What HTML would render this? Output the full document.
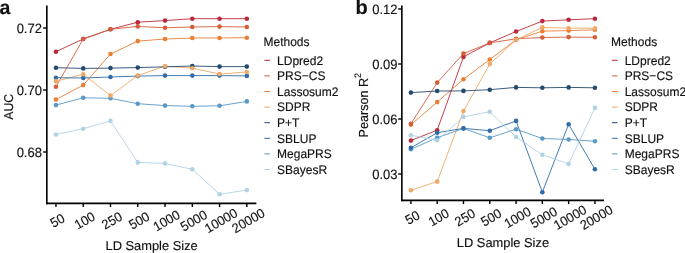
<!DOCTYPE html>
<html><head><meta charset="utf-8"><style>
html,body{margin:0;padding:0;background:#fff;}
svg{display:block;will-change:transform;}
text{font-family:"Liberation Sans", sans-serif;fill:#111;text-rendering:geometricPrecision;stroke:#111;stroke-width:0.15px;}
</style></head><body>
<svg width="685" height="253" viewBox="0 0 685 253">
<polyline points="55.95,51.70 83.22,39.00 110.49,29.30 137.76,22.20 165.03,20.60 192.30,18.70 219.57,18.70 246.84,18.70" fill="none" stroke="#BB2A3B" stroke-width="0.9" stroke-linejoin="round"/>
<polyline points="55.95,86.70 83.22,39.00 110.49,29.30 137.76,26.40 165.03,27.80 192.30,27.00 219.57,26.60 246.84,27.00" fill="none" stroke="#D55E3A" stroke-width="0.9" stroke-linejoin="round"/>
<polyline points="55.95,99.50 83.22,85.10 110.49,54.00 137.76,41.10 165.03,39.00 192.30,38.00 219.57,38.00 246.84,37.70" fill="none" stroke="#E97E35" stroke-width="0.9" stroke-linejoin="round"/>
<polyline points="55.95,81.30 83.22,74.20 110.49,95.60 137.76,75.60 165.03,66.10 192.30,68.20 219.57,74.00 246.84,72.00" fill="none" stroke="#EFA866" stroke-width="0.9" stroke-linejoin="round"/>
<polyline points="55.95,67.70 83.22,68.40 110.49,68.10 137.76,67.60 165.03,66.80 192.30,66.00 219.57,66.60 246.84,66.60" fill="none" stroke="#244A72" stroke-width="0.9" stroke-linejoin="round"/>
<polyline points="55.95,77.70 83.22,78.00 110.49,77.00 137.76,76.10 165.03,75.60 192.30,75.60 219.57,75.60 246.84,75.90" fill="none" stroke="#2F6CA8" stroke-width="0.9" stroke-linejoin="round"/>
<polyline points="55.95,105.10 83.22,97.80 110.49,98.30 137.76,103.70 165.03,105.60 192.30,106.30 219.57,105.80 246.84,101.40" fill="none" stroke="#5A98C6" stroke-width="0.9" stroke-linejoin="round"/>
<polyline points="55.95,134.50 83.22,128.70 110.49,120.90 137.76,162.40 165.03,163.50 192.30,169.30 219.57,194.30 246.84,190.10" fill="none" stroke="#B0D2E2" stroke-width="0.9" stroke-linejoin="round"/>
<circle cx="55.95" cy="51.70" r="2.3" fill="#BB2A3B"/>
<circle cx="83.22" cy="39.00" r="2.3" fill="#BB2A3B"/>
<circle cx="110.49" cy="29.30" r="2.3" fill="#BB2A3B"/>
<circle cx="137.76" cy="22.20" r="2.3" fill="#BB2A3B"/>
<circle cx="165.03" cy="20.60" r="2.3" fill="#BB2A3B"/>
<circle cx="192.30" cy="18.70" r="2.3" fill="#BB2A3B"/>
<circle cx="219.57" cy="18.70" r="2.3" fill="#BB2A3B"/>
<circle cx="246.84" cy="18.70" r="2.3" fill="#BB2A3B"/>
<circle cx="55.95" cy="99.50" r="2.3" fill="#E97E35"/>
<circle cx="83.22" cy="85.10" r="2.3" fill="#E97E35"/>
<circle cx="110.49" cy="54.00" r="2.3" fill="#E97E35"/>
<circle cx="137.76" cy="41.10" r="2.3" fill="#E97E35"/>
<circle cx="165.03" cy="39.00" r="2.3" fill="#E97E35"/>
<circle cx="192.30" cy="38.00" r="2.3" fill="#E97E35"/>
<circle cx="219.57" cy="38.00" r="2.3" fill="#E97E35"/>
<circle cx="246.84" cy="37.70" r="2.3" fill="#E97E35"/>
<circle cx="55.95" cy="105.10" r="2.3" fill="#5A98C6"/>
<circle cx="83.22" cy="97.80" r="2.3" fill="#5A98C6"/>
<circle cx="110.49" cy="98.30" r="2.3" fill="#5A98C6"/>
<circle cx="137.76" cy="103.70" r="2.3" fill="#5A98C6"/>
<circle cx="165.03" cy="105.60" r="2.3" fill="#5A98C6"/>
<circle cx="192.30" cy="106.30" r="2.3" fill="#5A98C6"/>
<circle cx="219.57" cy="105.80" r="2.3" fill="#5A98C6"/>
<circle cx="246.84" cy="101.40" r="2.3" fill="#5A98C6"/>
<circle cx="55.95" cy="67.70" r="2.3" fill="#244A72"/>
<circle cx="83.22" cy="68.40" r="2.3" fill="#244A72"/>
<circle cx="110.49" cy="68.10" r="2.3" fill="#244A72"/>
<circle cx="137.76" cy="67.60" r="2.3" fill="#244A72"/>
<circle cx="165.03" cy="66.80" r="2.3" fill="#244A72"/>
<circle cx="192.30" cy="66.00" r="2.3" fill="#244A72"/>
<circle cx="219.57" cy="66.60" r="2.3" fill="#244A72"/>
<circle cx="246.84" cy="66.60" r="2.3" fill="#244A72"/>
<circle cx="55.95" cy="86.70" r="2.3" fill="#D55E3A"/>
<circle cx="83.22" cy="39.00" r="2.3" fill="#D55E3A"/>
<circle cx="110.49" cy="29.30" r="2.3" fill="#D55E3A"/>
<circle cx="137.76" cy="26.40" r="2.3" fill="#D55E3A"/>
<circle cx="165.03" cy="27.80" r="2.3" fill="#D55E3A"/>
<circle cx="192.30" cy="27.00" r="2.3" fill="#D55E3A"/>
<circle cx="219.57" cy="26.60" r="2.3" fill="#D55E3A"/>
<circle cx="246.84" cy="27.00" r="2.3" fill="#D55E3A"/>
<circle cx="55.95" cy="77.70" r="2.3" fill="#2F6CA8"/>
<circle cx="83.22" cy="78.00" r="2.3" fill="#2F6CA8"/>
<circle cx="110.49" cy="77.00" r="2.3" fill="#2F6CA8"/>
<circle cx="137.76" cy="76.10" r="2.3" fill="#2F6CA8"/>
<circle cx="165.03" cy="75.60" r="2.3" fill="#2F6CA8"/>
<circle cx="192.30" cy="75.60" r="2.3" fill="#2F6CA8"/>
<circle cx="219.57" cy="75.60" r="2.3" fill="#2F6CA8"/>
<circle cx="246.84" cy="75.90" r="2.3" fill="#2F6CA8"/>
<circle cx="55.95" cy="134.50" r="2.3" fill="#B0D2E2"/>
<circle cx="83.22" cy="128.70" r="2.3" fill="#B0D2E2"/>
<circle cx="110.49" cy="120.90" r="2.3" fill="#B0D2E2"/>
<circle cx="137.76" cy="162.40" r="2.3" fill="#B0D2E2"/>
<circle cx="165.03" cy="163.50" r="2.3" fill="#B0D2E2"/>
<circle cx="192.30" cy="169.30" r="2.3" fill="#B0D2E2"/>
<circle cx="219.57" cy="194.30" r="2.3" fill="#B0D2E2"/>
<circle cx="246.84" cy="190.10" r="2.3" fill="#B0D2E2"/>
<circle cx="55.95" cy="81.30" r="2.3" fill="#EFA866"/>
<circle cx="83.22" cy="74.20" r="2.3" fill="#EFA866"/>
<circle cx="110.49" cy="95.60" r="2.3" fill="#EFA866"/>
<circle cx="137.76" cy="75.60" r="2.3" fill="#EFA866"/>
<circle cx="165.03" cy="66.10" r="2.3" fill="#EFA866"/>
<circle cx="192.30" cy="68.20" r="2.3" fill="#EFA866"/>
<circle cx="219.57" cy="74.00" r="2.3" fill="#EFA866"/>
<circle cx="246.84" cy="72.00" r="2.3" fill="#EFA866"/>
<line x1="46.83" y1="5.6" x2="46.83" y2="204.25" stroke="#000" stroke-width="1.6"/>
<line x1="46.03" y1="203.4" x2="256.4" y2="203.4" stroke="#000" stroke-width="1.7"/>
<line x1="43.13" y1="28.0" x2="46.83" y2="28.0" stroke="#000" stroke-width="1.4"/>
<text transform="translate(41.95,32.70) scale(1,1.041)" font-size="13.0" text-anchor="end">0.72</text>
<line x1="43.13" y1="90.0" x2="46.83" y2="90.0" stroke="#000" stroke-width="1.4"/>
<text transform="translate(41.95,94.70) scale(1,1.041)" font-size="13.0" text-anchor="end">0.70</text>
<line x1="43.13" y1="152.0" x2="46.83" y2="152.0" stroke="#000" stroke-width="1.4"/>
<text transform="translate(41.95,156.70) scale(1,1.041)" font-size="13.0" text-anchor="end">0.68</text>
<line x1="55.95" y1="203.4" x2="55.95" y2="207.10" stroke="#000" stroke-width="1.4"/>
<text transform="translate(57.30,220.45) rotate(-30) scale(1,1.041)" font-size="12.7" text-anchor="middle" dy="0.36em">50</text>
<line x1="83.22" y1="203.4" x2="83.22" y2="207.10" stroke="#000" stroke-width="1.4"/>
<text transform="translate(84.57,220.45) rotate(-30) scale(1,1.041)" font-size="12.7" text-anchor="middle" dy="0.36em">100</text>
<line x1="110.49" y1="203.4" x2="110.49" y2="207.10" stroke="#000" stroke-width="1.4"/>
<text transform="translate(111.84,220.45) rotate(-30) scale(1,1.041)" font-size="12.7" text-anchor="middle" dy="0.36em">250</text>
<line x1="137.76" y1="203.4" x2="137.76" y2="207.10" stroke="#000" stroke-width="1.4"/>
<text transform="translate(139.11,220.45) rotate(-30) scale(1,1.041)" font-size="12.7" text-anchor="middle" dy="0.36em">500</text>
<line x1="165.03" y1="203.4" x2="165.03" y2="207.10" stroke="#000" stroke-width="1.4"/>
<text transform="translate(166.38,220.45) rotate(-30) scale(1,1.041)" font-size="12.7" text-anchor="middle" dy="0.36em">1000</text>
<line x1="192.30" y1="203.4" x2="192.30" y2="207.10" stroke="#000" stroke-width="1.4"/>
<text transform="translate(193.65,220.45) rotate(-30) scale(1,1.041)" font-size="12.7" text-anchor="middle" dy="0.36em">5000</text>
<line x1="219.57" y1="203.4" x2="219.57" y2="207.10" stroke="#000" stroke-width="1.4"/>
<text transform="translate(220.92,220.45) rotate(-30) scale(1,1.041)" font-size="12.7" text-anchor="middle" dy="0.36em">10000</text>
<line x1="246.84" y1="203.4" x2="246.84" y2="207.10" stroke="#000" stroke-width="1.4"/>
<text transform="translate(248.19,220.45) rotate(-30) scale(1,1.041)" font-size="12.7" text-anchor="middle" dy="0.36em">20000</text>
<text transform="translate(151.61,250.00) scale(1,1.041)" font-size="12.3" text-anchor="middle" textLength="92.2" lengthAdjust="spacingAndGlyphs">LD Sample Size</text>
<text transform="translate(12.50,106.80) rotate(-90) scale(1,1.041)" font-size="12.3" text-anchor="middle" textLength="25.7" lengthAdjust="spacingAndGlyphs">AUC</text>
<text transform="translate(-0.50,14.20)" font-size="19.5" font-weight="bold">a</text>
<text transform="translate(263.50,45.60) scale(1,1.041)" font-size="12.0">Methods</text>
<line x1="264.30" y1="60.30" x2="270.00" y2="60.30" stroke="#BB2A3B" stroke-width="1.0"/>
<text transform="translate(277.10,64.62) scale(1,1.041)" font-size="12.0">LDpred2</text>
<line x1="264.30" y1="75.90" x2="270.00" y2="75.90" stroke="#D55E3A" stroke-width="1.0"/>
<text transform="translate(277.10,80.22) scale(1,1.041)" font-size="12.0">PRS−CS</text>
<line x1="264.30" y1="91.50" x2="270.00" y2="91.50" stroke="#E97E35" stroke-width="1.0"/>
<text transform="translate(277.10,95.82) scale(1,1.041)" font-size="12.0">Lassosum2</text>
<line x1="264.30" y1="107.10" x2="270.00" y2="107.10" stroke="#EFA866" stroke-width="1.0"/>
<text transform="translate(277.10,111.42) scale(1,1.041)" font-size="12.0">SDPR</text>
<line x1="264.30" y1="122.70" x2="270.00" y2="122.70" stroke="#244A72" stroke-width="1.0"/>
<text transform="translate(277.10,127.02) scale(1,1.041)" font-size="12.0">P+T</text>
<line x1="264.30" y1="138.30" x2="270.00" y2="138.30" stroke="#2F6CA8" stroke-width="1.0"/>
<text transform="translate(277.10,142.62) scale(1,1.041)" font-size="12.0">SBLUP</text>
<line x1="264.30" y1="153.90" x2="270.00" y2="153.90" stroke="#5A98C6" stroke-width="1.0"/>
<text transform="translate(277.10,158.22) scale(1,1.041)" font-size="12.0">MegaPRS</text>
<line x1="264.30" y1="169.50" x2="270.00" y2="169.50" stroke="#B0D2E2" stroke-width="1.0"/>
<text transform="translate(277.10,173.82) scale(1,1.041)" font-size="12.0">SBayesR</text>
<polyline points="410.90,140.60 437.19,130.20 463.48,56.90 489.77,42.90 516.06,31.50 542.35,21.10 568.64,19.80 594.93,18.70" fill="none" stroke="#BB2A3B" stroke-width="0.9" stroke-linejoin="round"/>
<polyline points="410.90,123.80 437.19,82.60 463.48,53.60 489.77,42.90 516.06,38.80 542.35,37.50 568.64,37.10 594.93,37.30" fill="none" stroke="#D55E3A" stroke-width="0.9" stroke-linejoin="round"/>
<polyline points="410.90,124.80 437.19,102.10 463.48,79.20 489.77,59.50 516.06,39.80 542.35,31.20 568.64,30.60 594.93,29.80" fill="none" stroke="#E97E35" stroke-width="0.9" stroke-linejoin="round"/>
<polyline points="410.90,190.20 437.19,181.60 463.48,111.10 489.77,64.00 516.06,39.80 542.35,27.40 568.64,28.20 594.93,28.20" fill="none" stroke="#EFA866" stroke-width="0.9" stroke-linejoin="round"/>
<polyline points="410.90,92.60 437.19,91.00 463.48,90.90 489.77,89.70 516.06,87.40 542.35,87.80 568.64,87.40 594.93,87.80" fill="none" stroke="#244A72" stroke-width="0.9" stroke-linejoin="round"/>
<polyline points="410.90,147.80 437.19,132.70 463.48,128.40 489.77,130.70 516.06,120.90 542.35,192.20 568.64,124.20 594.93,169.30" fill="none" stroke="#2F6CA8" stroke-width="0.9" stroke-linejoin="round"/>
<polyline points="410.90,149.30 437.19,137.70 463.48,128.40 489.77,137.80 516.06,129.20 542.35,138.50 568.64,139.50 594.93,141.20" fill="none" stroke="#5A98C6" stroke-width="0.9" stroke-linejoin="round"/>
<polyline points="410.90,135.20 437.19,140.30 463.48,116.90 489.77,111.70 516.06,137.00 542.35,154.80 568.64,163.90 594.93,107.90" fill="none" stroke="#B0D2E2" stroke-width="0.9" stroke-linejoin="round"/>
<circle cx="410.90" cy="140.60" r="2.3" fill="#BB2A3B"/>
<circle cx="437.19" cy="130.20" r="2.3" fill="#BB2A3B"/>
<circle cx="463.48" cy="56.90" r="2.3" fill="#BB2A3B"/>
<circle cx="489.77" cy="42.90" r="2.3" fill="#BB2A3B"/>
<circle cx="516.06" cy="31.50" r="2.3" fill="#BB2A3B"/>
<circle cx="542.35" cy="21.10" r="2.3" fill="#BB2A3B"/>
<circle cx="568.64" cy="19.80" r="2.3" fill="#BB2A3B"/>
<circle cx="594.93" cy="18.70" r="2.3" fill="#BB2A3B"/>
<circle cx="410.90" cy="124.80" r="2.3" fill="#E97E35"/>
<circle cx="437.19" cy="102.10" r="2.3" fill="#E97E35"/>
<circle cx="463.48" cy="79.20" r="2.3" fill="#E97E35"/>
<circle cx="489.77" cy="59.50" r="2.3" fill="#E97E35"/>
<circle cx="516.06" cy="39.80" r="2.3" fill="#E97E35"/>
<circle cx="542.35" cy="31.20" r="2.3" fill="#E97E35"/>
<circle cx="568.64" cy="30.60" r="2.3" fill="#E97E35"/>
<circle cx="594.93" cy="29.80" r="2.3" fill="#E97E35"/>
<circle cx="410.90" cy="149.30" r="2.3" fill="#5A98C6"/>
<circle cx="437.19" cy="137.70" r="2.3" fill="#5A98C6"/>
<circle cx="463.48" cy="128.40" r="2.3" fill="#5A98C6"/>
<circle cx="489.77" cy="137.80" r="2.3" fill="#5A98C6"/>
<circle cx="516.06" cy="129.20" r="2.3" fill="#5A98C6"/>
<circle cx="542.35" cy="138.50" r="2.3" fill="#5A98C6"/>
<circle cx="568.64" cy="139.50" r="2.3" fill="#5A98C6"/>
<circle cx="594.93" cy="141.20" r="2.3" fill="#5A98C6"/>
<circle cx="410.90" cy="92.60" r="2.3" fill="#244A72"/>
<circle cx="437.19" cy="91.00" r="2.3" fill="#244A72"/>
<circle cx="463.48" cy="90.90" r="2.3" fill="#244A72"/>
<circle cx="489.77" cy="89.70" r="2.3" fill="#244A72"/>
<circle cx="516.06" cy="87.40" r="2.3" fill="#244A72"/>
<circle cx="542.35" cy="87.80" r="2.3" fill="#244A72"/>
<circle cx="568.64" cy="87.40" r="2.3" fill="#244A72"/>
<circle cx="594.93" cy="87.80" r="2.3" fill="#244A72"/>
<circle cx="410.90" cy="123.80" r="2.3" fill="#D55E3A"/>
<circle cx="437.19" cy="82.60" r="2.3" fill="#D55E3A"/>
<circle cx="463.48" cy="53.60" r="2.3" fill="#D55E3A"/>
<circle cx="489.77" cy="42.90" r="2.3" fill="#D55E3A"/>
<circle cx="516.06" cy="38.80" r="2.3" fill="#D55E3A"/>
<circle cx="542.35" cy="37.50" r="2.3" fill="#D55E3A"/>
<circle cx="568.64" cy="37.10" r="2.3" fill="#D55E3A"/>
<circle cx="594.93" cy="37.30" r="2.3" fill="#D55E3A"/>
<circle cx="410.90" cy="147.80" r="2.3" fill="#2F6CA8"/>
<circle cx="437.19" cy="132.70" r="2.3" fill="#2F6CA8"/>
<circle cx="463.48" cy="128.40" r="2.3" fill="#2F6CA8"/>
<circle cx="489.77" cy="130.70" r="2.3" fill="#2F6CA8"/>
<circle cx="516.06" cy="120.90" r="2.3" fill="#2F6CA8"/>
<circle cx="542.35" cy="192.20" r="2.3" fill="#2F6CA8"/>
<circle cx="568.64" cy="124.20" r="2.3" fill="#2F6CA8"/>
<circle cx="594.93" cy="169.30" r="2.3" fill="#2F6CA8"/>
<circle cx="410.90" cy="135.20" r="2.3" fill="#B0D2E2"/>
<circle cx="437.19" cy="140.30" r="2.3" fill="#B0D2E2"/>
<circle cx="463.48" cy="116.90" r="2.3" fill="#B0D2E2"/>
<circle cx="489.77" cy="111.70" r="2.3" fill="#B0D2E2"/>
<circle cx="516.06" cy="137.00" r="2.3" fill="#B0D2E2"/>
<circle cx="542.35" cy="154.80" r="2.3" fill="#B0D2E2"/>
<circle cx="568.64" cy="163.90" r="2.3" fill="#B0D2E2"/>
<circle cx="594.93" cy="107.90" r="2.3" fill="#B0D2E2"/>
<circle cx="410.90" cy="190.20" r="2.3" fill="#EFA866"/>
<circle cx="437.19" cy="181.60" r="2.3" fill="#EFA866"/>
<circle cx="463.48" cy="111.10" r="2.3" fill="#EFA866"/>
<circle cx="489.77" cy="64.00" r="2.3" fill="#EFA866"/>
<circle cx="516.06" cy="39.80" r="2.3" fill="#EFA866"/>
<circle cx="542.35" cy="27.40" r="2.3" fill="#EFA866"/>
<circle cx="568.64" cy="28.20" r="2.3" fill="#EFA866"/>
<circle cx="594.93" cy="28.20" r="2.3" fill="#EFA866"/>
<line x1="401.85" y1="5.6" x2="401.85" y2="201.25" stroke="#000" stroke-width="1.6"/>
<line x1="401.05" y1="200.4" x2="604.0" y2="200.4" stroke="#000" stroke-width="1.7"/>
<line x1="398.15" y1="9.0" x2="401.85" y2="9.0" stroke="#000" stroke-width="1.4"/>
<text transform="translate(397.50,13.70) scale(1,1.041)" font-size="13.0" text-anchor="end">0.12</text>
<line x1="398.15" y1="64.0" x2="401.85" y2="64.0" stroke="#000" stroke-width="1.4"/>
<text transform="translate(397.50,68.70) scale(1,1.041)" font-size="13.0" text-anchor="end">0.09</text>
<line x1="398.15" y1="119.0" x2="401.85" y2="119.0" stroke="#000" stroke-width="1.4"/>
<text transform="translate(397.50,123.70) scale(1,1.041)" font-size="13.0" text-anchor="end">0.06</text>
<line x1="398.15" y1="174.0" x2="401.85" y2="174.0" stroke="#000" stroke-width="1.4"/>
<text transform="translate(397.50,178.70) scale(1,1.041)" font-size="13.0" text-anchor="end">0.03</text>
<line x1="410.90" y1="200.4" x2="410.90" y2="204.10" stroke="#000" stroke-width="1.4"/>
<text transform="translate(412.25,217.25) rotate(-30) scale(1,1.041)" font-size="12.7" text-anchor="middle" dy="0.36em">50</text>
<line x1="437.19" y1="200.4" x2="437.19" y2="204.10" stroke="#000" stroke-width="1.4"/>
<text transform="translate(438.54,217.25) rotate(-30) scale(1,1.041)" font-size="12.7" text-anchor="middle" dy="0.36em">100</text>
<line x1="463.48" y1="200.4" x2="463.48" y2="204.10" stroke="#000" stroke-width="1.4"/>
<text transform="translate(464.83,217.25) rotate(-30) scale(1,1.041)" font-size="12.7" text-anchor="middle" dy="0.36em">250</text>
<line x1="489.77" y1="200.4" x2="489.77" y2="204.10" stroke="#000" stroke-width="1.4"/>
<text transform="translate(491.12,217.25) rotate(-30) scale(1,1.041)" font-size="12.7" text-anchor="middle" dy="0.36em">500</text>
<line x1="516.06" y1="200.4" x2="516.06" y2="204.10" stroke="#000" stroke-width="1.4"/>
<text transform="translate(517.41,217.25) rotate(-30) scale(1,1.041)" font-size="12.7" text-anchor="middle" dy="0.36em">1000</text>
<line x1="542.35" y1="200.4" x2="542.35" y2="204.10" stroke="#000" stroke-width="1.4"/>
<text transform="translate(543.70,217.25) rotate(-30) scale(1,1.041)" font-size="12.7" text-anchor="middle" dy="0.36em">5000</text>
<line x1="568.64" y1="200.4" x2="568.64" y2="204.10" stroke="#000" stroke-width="1.4"/>
<text transform="translate(569.99,217.25) rotate(-30) scale(1,1.041)" font-size="12.7" text-anchor="middle" dy="0.36em">10000</text>
<line x1="594.93" y1="200.4" x2="594.93" y2="204.10" stroke="#000" stroke-width="1.4"/>
<text transform="translate(596.28,217.25) rotate(-30) scale(1,1.041)" font-size="12.7" text-anchor="middle" dy="0.36em">20000</text>
<text transform="translate(502.93,247.00) scale(1,1.041)" font-size="12.3" text-anchor="middle" textLength="92.2" lengthAdjust="spacingAndGlyphs">LD Sample Size</text>
<text transform="translate(368.20,105.20) rotate(-90) scale(1,1.041)" font-size="12.6" text-anchor="middle">Pearson R<tspan dy="-6.8" font-size="9">2</tspan></text>
<text transform="translate(355.50,14.40)" font-size="20" font-weight="bold">b</text>
<text transform="translate(611.10,45.60) scale(1,1.041)" font-size="12.0">Methods</text>
<line x1="611.90" y1="60.30" x2="617.60" y2="60.30" stroke="#BB2A3B" stroke-width="1.0"/>
<text transform="translate(624.70,64.62) scale(1,1.041)" font-size="12.0">LDpred2</text>
<line x1="611.90" y1="75.90" x2="617.60" y2="75.90" stroke="#D55E3A" stroke-width="1.0"/>
<text transform="translate(624.70,80.22) scale(1,1.041)" font-size="12.0">PRS−CS</text>
<line x1="611.90" y1="91.50" x2="617.60" y2="91.50" stroke="#E97E35" stroke-width="1.0"/>
<text transform="translate(624.70,95.82) scale(1,1.041)" font-size="12.0">Lassosum2</text>
<line x1="611.90" y1="107.10" x2="617.60" y2="107.10" stroke="#EFA866" stroke-width="1.0"/>
<text transform="translate(624.70,111.42) scale(1,1.041)" font-size="12.0">SDPR</text>
<line x1="611.90" y1="122.70" x2="617.60" y2="122.70" stroke="#244A72" stroke-width="1.0"/>
<text transform="translate(624.70,127.02) scale(1,1.041)" font-size="12.0">P+T</text>
<line x1="611.90" y1="138.30" x2="617.60" y2="138.30" stroke="#2F6CA8" stroke-width="1.0"/>
<text transform="translate(624.70,142.62) scale(1,1.041)" font-size="12.0">SBLUP</text>
<line x1="611.90" y1="153.90" x2="617.60" y2="153.90" stroke="#5A98C6" stroke-width="1.0"/>
<text transform="translate(624.70,158.22) scale(1,1.041)" font-size="12.0">MegaPRS</text>
<line x1="611.90" y1="169.50" x2="617.60" y2="169.50" stroke="#B0D2E2" stroke-width="1.0"/>
<text transform="translate(624.70,173.82) scale(1,1.041)" font-size="12.0">SBayesR</text>
</svg>
</body></html>
